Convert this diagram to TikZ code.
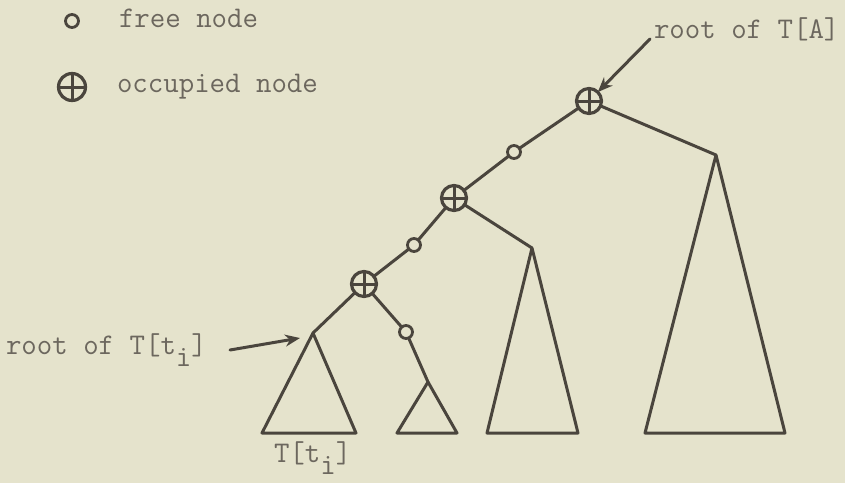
\documentclass[tikz,border=0pt]{standalone}
\usetikzlibrary{arrows.meta}
\definecolor{bg}{HTML}{E5E3CC}
\definecolor{ink}{HTML}{4A453D}
\definecolor{txt}{HTML}{6C675E}
\newcommand{\low}[1]{\raisebox{-12pt}{#1}}
\begin{document}
\begin{tikzpicture}[x=1pt,y=-1pt,
  line width=3pt, line join=round, line cap=round,
  every node/.style={inner sep=0pt, outer sep=0pt},
  lbl/.style={text=txt, anchor=base west, font=\fontsize{30}{31}\selectfont\ttfamily},
  freenode/.style={circle, draw=ink, line width=2.8pt, minimum size=13pt},
  occnode/.style={circle, draw=ink, line width=3.2pt, minimum size=25pt,
    path picture={\draw[ink, line width=3pt]
      (path picture bounding box.north) -- (path picture bounding box.south)
      (path picture bounding box.west) -- (path picture bounding box.east);}},
  edge/.style={draw=ink, line width=3pt},
  arr/.style={draw=ink, line width=3pt, -{Stealth[length=15pt,width=12pt]}}
]
\useasboundingbox[fill=bg] (0,0) rectangle (845,483);

% legend
\node[freenode, minimum size=13pt] (lf) at (72,21) {};
\node[lbl] (lft) at (119,27) {free node};
\node[occnode, minimum size=27pt] (lo) at (72,87) {};
\node[lbl] (lot) at (117,92) {occupied node};

% tree nodes
\node[occnode] (r) at (589,101) {};
\node[freenode] (f1) at (514,152) {};
\node[occnode] (o2) at (454,198) {};
\node[freenode] (f2) at (414,245) {};
\node[occnode] (o3) at (364,284) {};
\node[freenode] (f3) at (406,332) {};

\coordinate (aL) at (313,333);
\coordinate (aS) at (428,382);
\coordinate (aM) at (532,248);
\coordinate (aR) at (716,155);

\coordinate (bL1) at (262,433); \coordinate (bL2) at (356,433);
\coordinate (bS1) at (397,433); \coordinate (bS2) at (457,433);
\coordinate (bM1) at (487,433); \coordinate (bM2) at (578,433);
\coordinate (bR1) at (645,433); \coordinate (bR2) at (785,433);

% edges
\draw[edge] (r) -- (f1);
\draw[edge] (f1) -- (o2);
\draw[edge] (o2) -- (f2);
\draw[edge] (f2) -- (o3);
\draw[edge] (o3) -- (aL);
\draw[edge] (o3) -- (f3);
\draw[edge] (f3) -- (aS);
\draw[edge] (o2) -- (aM);
\draw[edge] (r) -- (aR);

% triangles
\draw[edge] (aL) -- (bL1) -- (bL2) -- cycle;
\draw[edge] (aS) -- (bS1) -- (bS2) -- cycle;
\draw[edge] (aM) -- (bM1) -- (bM2) -- cycle;
\draw[edge] (aR) -- (bR1) -- (bR2) -- cycle;

% labels
\node[lbl] (tA) at (654,38) {root of T[A]};
\coordinate (tAs) at (650,39);
\draw[arr] (tAs) -- (r);

\node[lbl] (ti) at (6,354) {root of T[t\low{i}]};
\coordinate (tis) at (230,350);
\coordinate (tie) at (300,338);
\draw[arr] (tis) -- (tie);

\node[lbl] (Tti) at (274,462) {T[t\low{i}]};
\end{tikzpicture}
\end{document}
